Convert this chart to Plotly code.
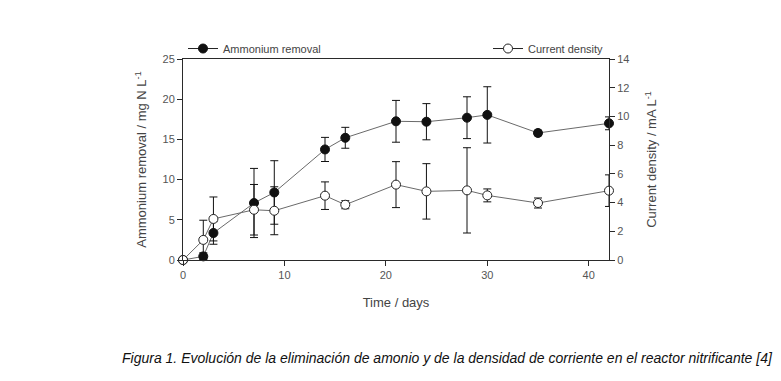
import plotly.graph_objects as go

# ---- data ----
days_nh4 = [0, 2, 3, 7, 9, 14, 16, 21, 24, 28, 30, 35, 42]
nh4_removal = [0, 0.45, 3.36, 7.09, 8.4, 13.75, 15.2, 17.25, 17.2, 17.7, 18.05, 15.8, 17.0]
nh4_err = [0, 0.45, 1.4, 4.3, 3.95, 1.5, 1.3, 2.6, 2.25, 2.6, 3.5, 0.35, 0.8]

days_cd = [0, 2, 3, 7, 9, 14, 16, 21, 24, 28, 30, 35, 42]
current_density = [0, 1.4, 2.86, 3.5, 3.43, 4.48, 3.85, 5.25, 4.78, 4.85, 4.5, 3.97, 4.83]
cd_err = [0, 1.37, 1.53, 1.76, 1.67, 0.96, 0.28, 1.6, 1.93, 2.97, 0.45, 0.35, 1.1]

x_ticks = [0, 10, 20, 30, 40]
left_ticks = [0, 5, 10, 15, 20, 25]
right_ticks = [0, 2, 4, 6, 8, 10, 12, 14]

caption = "Figura 1. Evolución de la eliminación de amonio y de la densidad de corriente en el reactor nitrificante [4]"

FONT = "Liberation Sans, Arial, sans-serif"
LINE_GRAY = "#6a6a6a"
AXIS = "#2a2a2a"
TICKFONT = dict(family=FONT, size=11, color="#555555")

fig = go.Figure()

# data traces with error bars
fig.add_trace(go.Scatter(
    x=days_nh4, y=nh4_removal, mode="lines+markers",
    line=dict(color=LINE_GRAY, width=1),
    marker=dict(symbol="circle", size=9, color="#111111", line=dict(color="#111111", width=1)),
    error_y=dict(type="data", array=nh4_err, color="#111111", thickness=1, width=4),
    cliponaxis=False, showlegend=False, yaxis="y"))
fig.add_trace(go.Scatter(
    x=days_cd, y=current_density, mode="lines+markers",
    line=dict(color=LINE_GRAY, width=1),
    marker=dict(symbol="circle", size=9, color="white", line=dict(color="#222222", width=1)),
    error_y=dict(type="data", array=cd_err, color="#111111", thickness=1, width=4),
    cliponaxis=False, showlegend=False, yaxis="y2"))

# legend-only traces
fig.add_trace(go.Scatter(
    x=[None], y=[None], mode="lines+markers", name="Ammonium removal",
    line=dict(color="#222222", width=1),
    marker=dict(symbol="circle", size=9, color="#111111", line=dict(color="#111111", width=1)),
    legend="legend", yaxis="y"))
fig.add_trace(go.Scatter(
    x=[None], y=[None], mode="lines+markers", name="Current density",
    line=dict(color="#222222", width=1),
    marker=dict(symbol="circle", size=9, color="white", line=dict(color="#222222", width=1)),
    legend="legend2", yaxis="y2"))

fig.update_layout(
    width=773, height=373,
    margin=dict(l=175, r=172, t=51, b=121),
    paper_bgcolor="white", plot_bgcolor="white",
    font=dict(family=FONT, color="#444444"),
    xaxis=dict(
        range=[0, 42], tickvals=x_ticks, ticks="outside", ticklen=5, tickcolor=AXIS,
        showline=True, linecolor=AXIS, linewidth=1, mirror=True,
        showgrid=False, zeroline=False, tickfont=TICKFONT,
        title=dict(text="Time / days", font=dict(family=FONT, size=13, color="#444444"), standoff=17)),
    yaxis=dict(
        range=[0, 25], tickvals=left_ticks, ticks="outside", ticklen=5, tickcolor=AXIS,
        showline=True, linecolor=AXIS, linewidth=1,
        showgrid=False, zeroline=False, tickfont=TICKFONT,
        title=dict(text="Ammonium removal / mg N L<sup>-1</sup>",
                   font=dict(family=FONT, size=13, color="#444444"), standoff=12)),
    yaxis2=dict(
        range=[0, 14], tickvals=right_ticks, ticks="outside", ticklen=5, tickcolor=AXIS,
        overlaying="y", side="right", anchor="x",
        showline=True, linecolor=AXIS, linewidth=1,
        showgrid=False, zeroline=False, tickfont=TICKFONT,
        title=dict(text="Current density / mA L<sup>-1</sup>",
                   font=dict(family=FONT, size=13, color="#444444"), standoff=18)),
    legend=dict(x=0, xanchor="left", y=0.98, yanchor="bottom", orientation="h",
                font=dict(family=FONT, size=11, color="#444444"),
                bgcolor="rgba(0,0,0,0)", borderwidth=0, itemwidth=30,
                tracegroupgap=0),
    legend2=dict(x=1.0, xanchor="right", y=0.98, yanchor="bottom", orientation="h",
                 font=dict(family=FONT, size=11, color="#444444"),
                 bgcolor="rgba(0,0,0,0)", borderwidth=0, itemwidth=30),
    annotations=[dict(
        text="<i>" + caption + "</i>",
        xref="paper", yref="paper", x=1.39, xanchor="right", y=-0.4876, yanchor="middle",
        showarrow=False, font=dict(family=FONT, size=14, color="#111111"))],
)

fig.write_html("out.html")
